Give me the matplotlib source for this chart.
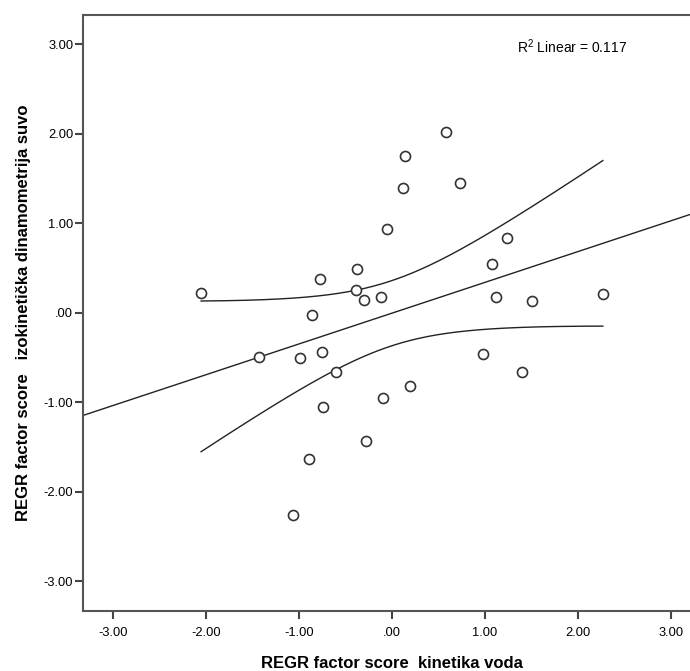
import numpy as np
import matplotlib
matplotlib.use('Agg')
import matplotlib.pyplot as plt

# factor scores
kinetika_voda = [-2.05, -0.77, -0.37, -0.38, -0.30, -0.12, -0.86, -0.05, 0.12, 0.14,
                 0.58, 0.73, 1.24, 1.08, 1.12, 1.51, 2.27, -1.43, -0.99, -0.75,
                 -0.60, -0.74, -0.09, 0.20, -0.28, -0.89, -1.06, 0.98, 1.40]
izokineticka_suvo = [0.22, 0.38, 0.49, 0.25, 0.14, 0.18, -0.03, 0.93, 1.39, 1.75,
                     2.02, 1.45, 0.83, 0.54, 0.18, 0.13, 0.21, -0.49, -0.51, -0.44,
                     -0.66, -1.05, -0.95, -0.82, -1.43, -1.63, -2.26, -0.46, -0.66]

tick_vals = [-3, -2, -1, 0, 1, 2, 3]
tick_labels = ['-3.00', '-2.00', '-1.00', '.00', '1.00', '2.00', '3.00']
r2_text = 'R$^2$ Linear = 0.117'

x = np.array(kinetika_voda)
y = np.array(izokineticka_suvo)
n = len(x)

# linearna regresija + 95% CI za srednju vrijednost
b, a = np.polyfit(x, y, 1)
res = y - (a + b * x)
s = np.sqrt(np.sum(res ** 2) / (n - 2))
sxx = np.sum((x - x.mean()) ** 2)
t_crit = 2.052  # t(0.975, df=27)

xlim = (-3.32, 3.32)
ylim = (-3.33, 3.33)

plt.rcParams['font.family'] = ['Liberation Sans', 'DejaVu Sans']
plt.rcParams['mathtext.fontset'] = 'custom'
plt.rcParams['mathtext.rm'] = 'Liberation Sans'

fig = plt.figure(figsize=(6.9, 6.71), dpi=100)
ax = fig.add_axes([83 / 690, 0.090, 617.5 / 690, 0.888])

xf = np.linspace(xlim[0], xlim[1], 200)
ax.plot(xf, a + b * xf, color='#222222', lw=1.0)

xc = np.linspace(x.min(), x.max(), 200)
yc = a + b * xc
se = s * np.sqrt(1 / n + (xc - x.mean()) ** 2 / sxx)
ax.plot(xc, yc + t_crit * se, color='#222222', lw=1.0)
ax.plot(xc, yc - t_crit * se, color='#222222', lw=1.0)

ax.scatter(x, y, s=52, facecolors='white', edgecolors='#333333', linewidths=1.2, zorder=3)

ax.set_xlim(xlim)
ax.set_ylim(ylim)
ax.set_xticks(tick_vals)
ax.set_xticklabels(tick_labels)
ax.set_yticks(tick_vals)
ax.set_yticklabels(tick_labels)
ax.tick_params(direction='out', length=6, width=1.5, color='#444444', labelsize=9.3)
ax.tick_params(axis='y', pad=1)
ax.tick_params(axis='x', pad=6)

for sp in ax.spines.values():
    sp.set_color('#555555')
    sp.set_linewidth(1.5)
ax.spines['right'].set_visible(False)

ax.text(1.35, 2.97, r2_text, fontsize=10, va='center', ha='left')

ax.set_xlabel('REGR factor score  kinetika voda', fontsize=12, fontweight='bold', labelpad=12)
ax.set_ylabel('REGR factor score   izokinetička dinamometrija suvo', fontsize=12,
              fontweight='bold', labelpad=9)

fig.savefig('out.png', dpi=100)
